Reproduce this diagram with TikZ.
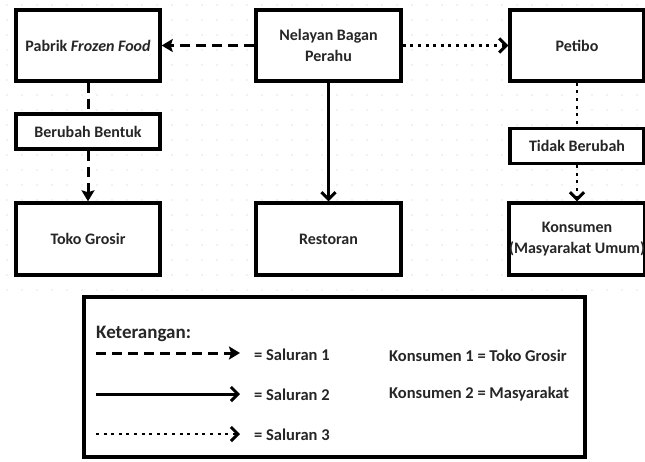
\documentclass[tikz,border=0pt]{standalone}
\usepackage{fontspec}
\setmainfont{Carlito}
\usetikzlibrary{arrows.meta}
\tikzset{
  box/.style={draw=black, line width=3.4pt, fill=white, align=center, inner sep=0pt,
    font=\fontsize{16}{21}\selectfont\bfseries, text=black!85},
  conn/.style={line width=3pt},
  dsh/.style={conn, dash pattern=on 10pt off 6pt},
  dtt/.style={conn, line width=2.8pt, dash pattern=on 3pt off 4.6pt},
  tipA/.style={-{Stealth[length=11pt,width=13pt,inset=2pt]}},
  tipB/.style={-{Straight Barb[length=7pt,width=14pt,line width=3pt]}},
  lgtxt/.style={font=\fontsize{16.5}{20}\selectfont\bfseries, text=black!85, anchor=west, inner sep=0pt},
}
\begin{document}
\begin{tikzpicture}[x=1pt,y=-1pt]
\useasboundingbox (0,0) rectangle (645,461);
\fill[white] (0,0) rectangle (645,461);
% faint dot grid
\foreach \i in {0,...,42}{
  \foreach \j in {0,...,19}{
    \fill[black!10] (\i*15+7,\j*15+5) circle (0.8pt);
  }
}
\node[box, minimum width=144pt, minimum height=71pt] (pab) at (88,45.5) {Pabrik \textit{Frozen Food}};
\node[box, minimum width=145pt, minimum height=71pt] (nel) at (328.5,45.5) {Nelayan Bagan\\Perahu};
\node[box, minimum width=134pt, minimum height=71pt] (pet) at (577,45.5) {Petibo};
\node[box, minimum width=144pt, minimum height=35pt] (ber) at (88,131.5) {Berubah Bentuk};
\node[box, minimum width=134pt, minimum height=35pt] (tid) at (577,146) {Tidak Berubah};
\node[box, minimum width=144pt, minimum height=72pt] (tok) at (88,239) {Toko Grosir};
\node[box, minimum width=145pt, minimum height=72pt] (res) at (328.5,239) {Restoran};
\node[box, minimum width=134pt, minimum height=72pt] (kon) at (577,239) {Konsumen\\(Masyarakat Umum)};

\draw[dsh, tipA] (nel.west) -- (pab.east);
\draw[dtt, tipB] (nel.east) -- (pet.west);
\draw[conn, tipB] (nel.south) -- (res.north);
\draw[dsh] (pab.south) -- (ber.north);
\draw[dsh, tipA] (ber.south) -- (tok.north);
\draw[dtt] (pet.south) -- (tid.north);
\draw[dtt, tipB] (tid.south) -- (kon.north);

% legend
\node[draw=black, line width=3.4pt, fill=white, minimum width=501pt, minimum height=160pt, inner sep=0pt] (leg) at (334.5,377) {};
\node[lgtxt, font=\fontsize{19}{22}\selectfont\bfseries] (ket) at (96,334) {Keterangan:};
\coordinate (a1) at (96,353); \coordinate (b1) at (240,353);
\coordinate (a2) at (96,394); \coordinate (b2) at (240,394);
\coordinate (a3) at (96,434); \coordinate (b3) at (240,434);
\draw[dsh, tipA] (a1) -- (b1);
\draw[conn, tipB] (a2) -- (b2);
\draw[dtt, tipB] (a3) -- (b3);
\node[lgtxt] (s1) at (254,355) {= Saluran 1};
\node[lgtxt] (s2) at (254,395) {= Saluran 2};
\node[lgtxt] (s3) at (254,435) {= Saluran 3};
\node[lgtxt] (k1) at (389,356) {Konsumen 1 = Toko Grosir};
\node[lgtxt] (k2) at (389,394) {Konsumen 2 = Masyarakat};
\end{tikzpicture}
\end{document}
